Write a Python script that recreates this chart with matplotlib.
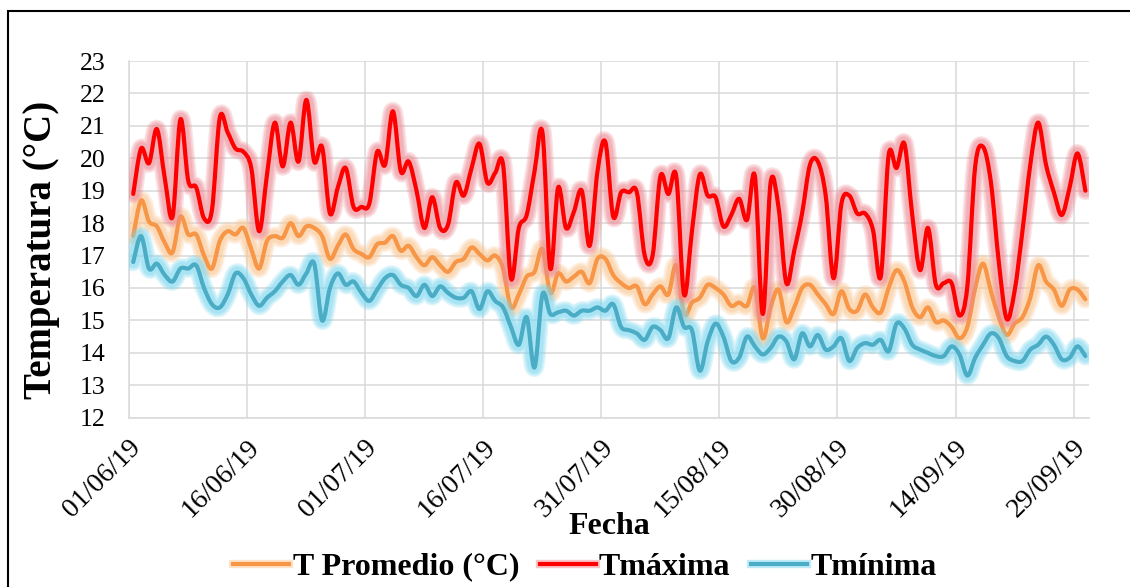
import numpy as np
import matplotlib
matplotlib.use("Agg")
import matplotlib.pyplot as plt
from matplotlib.path import Path
from matplotlib.patches import PathPatch, Rectangle
from matplotlib.lines import Line2D
from matplotlib.transforms import ScaledTranslation
import matplotlib.patheffects as pe

plt.rcParams['font.family'] = ['Liberation Serif', 'DejaVu Serif']

# daily temperatures, 01/06/19 .. 30/09/19
t_max = [18.9, 20.3, 19.85, 20.9, 19.4, 18.2, 21.2, 19.3, 19.1, 18.15,
         18.4, 21.25, 20.8, 20.3, 20.2, 19.7, 17.75, 19.5, 21.1, 19.75,
         21.1, 19.9, 21.8, 19.9, 20.35, 18.3, 19.1, 19.7, 18.5, 18.5,
         18.6, 20.2, 19.8, 21.45, 19.6, 19.9, 19.0, 17.85, 18.8, 17.85,
         17.95, 19.25, 18.85, 19.7, 20.45, 19.25, 19.55, 19.8, 16.3, 17.85,
         18.25, 19.6, 20.8, 16.6, 19.1, 17.85, 18.35, 19.0, 17.3, 19.6,
         20.5, 18.2, 18.95, 18.95, 18.95, 17.0, 17.0, 19.45, 18.9, 19.45,
         15.8, 17.75, 19.5, 18.85, 18.8, 17.9, 18.25, 18.75, 18.1, 19.45,
         15.2, 19.25, 18.5, 16.15, 17.15, 18.3, 19.8, 19.9, 18.85, 16.3,
         18.6, 18.85, 18.3, 18.3, 17.8, 16.35, 20.1, 19.7, 20.45, 18.25,
         16.55, 17.85, 16.1, 16.15, 16.15, 15.15, 16.05, 19.75, 20.35, 19.25,
         16.8, 15.05, 15.9, 17.75, 19.8, 21.1, 19.8, 18.95, 18.25, 19.1,
         20.15, 19.0]

t_avg = [17.6, 18.7, 18.05, 17.9, 17.4, 17.1, 18.2, 17.65, 17.65, 17.0,
         16.6, 17.45, 17.75, 17.65, 17.85, 17.2, 16.6, 17.45, 17.6, 17.55,
         18.0, 17.6, 17.9, 17.85, 17.6, 16.9, 17.3, 17.65, 17.2, 17.05,
         16.95, 17.35, 17.4, 17.6, 17.15, 17.3, 16.95, 16.7, 16.95, 16.7,
         16.5, 16.8, 16.9, 17.25, 17.05, 16.85, 17.0, 16.6, 15.4, 15.8,
         16.35, 16.5, 17.2, 15.85, 16.45, 16.2, 16.35, 16.5, 16.15, 16.9,
         16.9, 16.4, 16.15, 16.0, 16.05, 15.5, 15.8, 16.05, 15.8, 16.7,
         15.2, 15.55, 15.7, 16.1, 16.0, 15.8, 15.45, 15.55, 15.45, 16.0,
         14.45, 15.4, 15.95, 14.95, 15.4, 16.0, 16.1, 15.8, 15.5, 15.2,
         15.9, 15.35, 15.3, 15.8, 15.4, 15.25, 16.0, 16.55, 16.2, 15.4,
         15.1, 15.4, 14.95, 15.0, 14.8, 14.45, 14.8, 16.0, 16.75, 15.9,
         15.1, 14.55, 14.9, 15.1, 15.7, 16.7, 16.2, 15.95, 15.45, 15.95,
         15.95, 15.65]

t_min = [16.8, 17.6, 16.6, 16.75, 16.4, 16.2, 16.6, 16.6, 16.7, 16.0,
         15.5, 15.4, 15.8, 16.45, 16.3, 15.8, 15.45, 15.7, 15.9, 16.2,
         16.4, 16.1, 16.45, 16.75, 15.0, 16.0, 16.45, 16.1, 16.2, 15.85,
         15.6, 15.95, 16.3, 16.4, 16.1, 16.0, 15.75, 16.1, 15.75, 16.05,
         15.85, 15.7, 15.7, 15.9, 15.35, 15.9, 15.6, 15.4, 14.8, 14.25,
         15.1, 13.55, 15.8, 15.2, 15.25, 15.3, 15.15, 15.3, 15.3, 15.4,
         15.3, 15.5, 14.8, 14.7, 14.6, 14.4, 14.8, 14.7, 14.45, 15.4,
         14.8, 14.7, 13.45, 14.35, 14.9, 14.5, 13.75, 13.85, 14.5, 14.2,
         13.95, 14.15, 14.5, 14.35, 13.8, 14.6, 14.2, 14.55, 14.1, 14.2,
         14.45, 13.75, 14.15, 14.3, 14.25, 14.4, 14.05, 14.9, 14.75, 14.25,
         14.1, 14.0, 13.9, 13.9, 14.2, 13.95, 13.3, 13.85, 14.25, 14.6,
         14.45, 13.9, 13.75, 13.75, 14.1, 14.25, 14.5, 14.25, 13.8, 13.85,
         14.2, 13.9]

tick_days = [0, 15, 30, 45, 60, 75, 90, 105, 120]
tick_labels = ['01/06/19', '16/06/19', '01/07/19', '16/07/19', '31/07/19',
               '15/08/19', '30/08/19', '14/09/19', '29/09/19']

series = [
    ('T Promedio (°C)', t_avg, '#F79646', '#FBC894'),
    ('Tmáxima', t_max, '#FF0000', '#EE8A94'),
    ('Tmínima', t_min, '#4BACC6', '#7FD8F0'),
]


def smooth_path(xs, ys):
    # cubic bezier through every point, like a "smoothed line" chart
    p = np.column_stack([xs, ys])
    n = len(p)
    verts = [p[0]]
    codes = [Path.MOVETO]
    for i in range(n - 1):
        prev = p[i - 1] if i > 0 else p[i]
        nxt = p[i + 2] if i + 2 < n else p[i + 1]
        verts += [p[i] + (p[i + 1] - prev) / 6,
                  p[i + 1] - (nxt - p[i]) / 6,
                  p[i + 1]]
        codes += [Path.CURVE4] * 3
    return Path(verts, codes)


def glow(color):
    return [pe.Stroke(linewidth=w, foreground=color, alpha=0.24)
            for w in (13.5, 11.5, 9.5, 8)] + [pe.Normal()]


fig = plt.figure(figsize=(11.3, 5.87), dpi=100)
ax = fig.add_axes([129.3 / 1130, 1 - 417.7 / 587, 960 / 1130, 356.7 / 587])

for name, vals, col, gcol in series:
    days = np.arange(len(vals)) + 0.5
    patch = PathPatch(smooth_path(days, vals), fill=False, edgecolor=col,
                      lw=3.0, capstyle='round', joinstyle='round', zorder=3)
    patch.set_path_effects(glow(gcol))
    ax.add_patch(patch)

ax.set_xlim(0, 122)
ax.set_ylim(12, 23)
ax.set_yticks(range(12, 24))
ax.set_xticks(tick_days)
ax.set_xticklabels(tick_labels, rotation=45, ha='right', va='center',
                   rotation_mode='anchor', fontsize=20)
ax.tick_params(axis='both', length=0)
ax.tick_params(axis='y', pad=17, labelsize=18.5)
ax.tick_params(axis='x', pad=19)
shift = ScaledTranslation(8 / 100, 0, fig.dpi_scale_trans)
for lab in ax.get_xticklabels():
    lab.set_transform(lab.get_transform() + shift)
ax.grid(True, color='#D9D9D9', lw=1.1)
ax.set_axisbelow(True)
for s in ('top', 'right'):
    ax.spines[s].set_visible(False)
for s in ('left', 'bottom'):
    ax.spines[s].set_color('#D9D9D9')
    ax.spines[s].set_linewidth(1.1)

ax.set_ylabel('Temperatura (°C)', fontsize=28, fontweight='bold', va='center')
ax.yaxis.set_label_coords(-0.091, 0.47)
ax.set_xlabel('Fecha', fontsize=23, fontweight='bold', va='center')
ax.xaxis.set_label_coords(0.5, -0.306)

handles = []
for name, vals, col, gcol in series:
    h = Line2D([], [], color=col, lw=3,
               path_effects=[pe.Stroke(linewidth=6, foreground=gcol, alpha=0.5),
                             pe.Normal()])
    handles.append(h)
fig.legend(handles, [s[0] for s in series], loc='center',
           bbox_to_anchor=(585 / 1130, 1 - 567 / 587), ncol=3, frameon=False,
           prop={'size': 23, 'weight': 'bold'}, handlelength=1.75,
           handletextpad=0.1, columnspacing=0.65)

# chart area border
fig.patches.append(Rectangle((7.5 / 1130, -0.2), 1.2, 1.2 - 11 / 587,
                             transform=fig.transFigure, fill=False,
                             edgecolor='black', lw=1.5))

fig.savefig('out.png', dpi=100)
